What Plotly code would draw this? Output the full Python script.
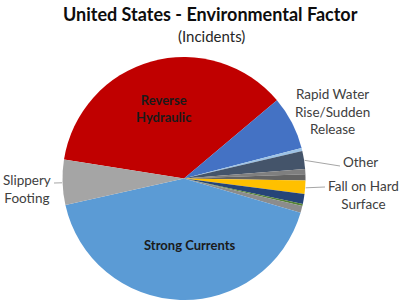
import math
import plotly.graph_objects as go

# ---- data ----
categories = ["Reverse Hydraulic", "Rapid Water Rise/Sudden Release", "Cold Water", "Other",
              "Debris", "Low Head Dam", "Fall on Hard Surface", "Undertow", "Wave Action",
              "Strainer", "Strong Currents", "Slippery Footing"]
incidents = [364, 71, 4, 24, 7, 8, 18, 13, 3, 9, 420, 60]
colors = ["#C00000", "#4472C4", "#9DC3E6", "#44546A", "#7F7F7F", "#636363", "#FFC000",
          "#264478", "#548235", "#8C8C8C", "#5B9BD5", "#A5A5A5"]

title_text = "United States - Environmental Factor"
subtitle_text = "(Incidents)"

W, H = 400, 300
cx, cy, R = 184, 179, 122          # pie centre / radius in pixels
rotation = -81                      # first slice start angle (clockwise from 12 o'clock)

FONT = "Lato"
LABEL_COLOR = "#404040"

fig = go.Figure(go.Pie(
    labels=categories,
    values=incidents,
    sort=False,
    direction="clockwise",
    rotation=rotation,
    marker=dict(colors=colors, line=dict(width=0)),
    textinfo="none",
    hoverinfo="label+value",
    showlegend=False,
    domain=dict(x=[(cx - R) / W, (cx + R) / W], y=[max(0, (H - (cy + R)) / H), (H - (cy - R)) / H]),
))

total = sum(incidents)


def rim_point(name):
    i = categories.index(name)
    before = sum(incidents[:i])
    mid = rotation + (before + incidents[i] / 2) / total * 360
    a = math.radians(mid)
    x = cx + R * math.sin(a)
    y = cy - R * math.cos(a)
    return x, y


def px(x, y):
    return x / W, 1 - y / H


annotations = []


def label(text, x, y, size=13, bold=False, color=LABEL_COLOR):
    xp, yp = px(x, y)
    annotations.append(dict(
        text=f"<b>{text}</b>" if bold else text,
        x=xp, y=yp, xref="paper", yref="paper", xanchor="center", yanchor="middle",
        showarrow=False, align="center",
        font=dict(family=FONT, size=size, color=color),
    ))


label(title_text, 210, 14, size=18, bold=True, color="#0D0D0D")
label(subtitle_text, 211, 36, size=15, color="#262626")
label("Reverse<br>Hydraulic", 164, 109, size=13, bold=True, color="#1A1A1A")
label("Strong Currents", 190, 245, size=13, bold=True, color="#1A1A1A")
label("Rapid Water<br>Rise/Sudden<br>Release", 332, 112, size=13.5)
label("Other", 360, 162, size=13.5)
label("Fall on Hard<br>Surface", 363, 195, size=13.5)
label("Slippery<br>Footing", 27, 189, size=13.5)

shapes = []


def leader(name, x_end, y_end):
    x0, y0 = rim_point(name)
    a, b = px(x0, y0)
    c, d = px(x_end, y_end)
    shapes.append(dict(type="line", xref="paper", yref="paper", x0=a, y0=b, x1=c, y1=d,
                       line=dict(color="#A6A6A6", width=1)))


leader("Other", 340, 166)
leader("Fall on Hard Surface", 325, 187)
leader("Slippery Footing", 54, 183)

fig.update_layout(
    width=W, height=H,
    margin=dict(l=0, r=0, t=0, b=0),
    paper_bgcolor="white",
    plot_bgcolor="white",
    annotations=annotations,
    shapes=shapes,
)

fig.write_html("out.html")
